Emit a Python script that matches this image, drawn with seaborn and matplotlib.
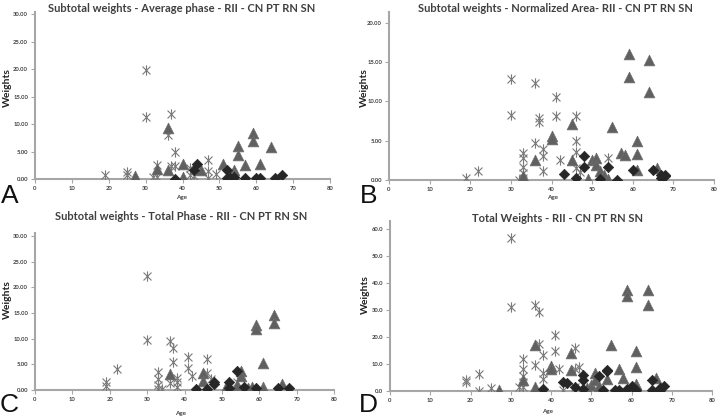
import numpy as np
import seaborn as sns
import matplotlib
matplotlib.use("Agg")
from matplotlib import pyplot as plt
from matplotlib.path import Path
from matplotlib.ticker import FormatStrFormatter, MultipleLocator

# ---- data (age, weight) ----
# A: Average phase
a_star_age = [19, 25, 25, 30, 30, 32, 33, 36, 37, 38, 37, 38, 42, 42, 43, 47, 47, 47, 49, 33]
a_star_w = [0.7, 1.3, 0.7, 19.8, 11.2, 0.4, 2.6, 8.0, 11.9, 5.0, 2.3, 2.3, 2.0, 0.7, 0.5, 3.5, 1.4, 0.2, 1.0, 0.3]
a_tri_age = [27, 33, 36, 36, 40, 40, 45, 51, 54, 54, 55, 55, 57, 59, 59, 61, 64, 66]
a_tri_w = [0.6, 1.9, 9.2, 1.6, 2.7, 0.4, 1.6, 2.8, 1.6, 1.0, 6.0, 4.3, 2.5, 8.4, 7.0, 2.7, 5.8, 0.0]
a_dia_age = [38, 43, 44, 52, 52, 53, 54, 57, 60, 61, 65, 67]
a_dia_w = [0.05, 1.6, 2.8, 1.7, 0.1, 0.15, 0.3, 0.2, 0.2, 0.2, 0.1, 0.7]

# B: Normalized area
b_star_age = [19, 22, 30, 30, 32, 33, 33, 33, 33, 33, 36, 36, 37, 37, 38, 38, 38, 41, 41, 42, 46, 46, 46, 46, 47, 54]
b_star_w = [0.3, 1.2, 12.9, 8.3, 0.0, 3.5, 2.8, 1.7, 0.9, 0.3, 12.4, 4.7, 7.9, 7.4, 3.9, 3.1, 1.2, 10.6, 8.2, 2.5, 8.2, 5.0, 3.6, 1.5, 1.0, 2.8]
b_tri_age = [33, 36, 40, 40, 45, 45, 49, 50, 51, 51, 52, 53, 54, 55, 57, 58, 59, 59, 61, 61, 61, 64, 64, 66]
b_tri_w = [0.5, 2.6, 5.6, 5.2, 7.1, 2.5, 0.1, 2.5, 2.8, 1.9, 1.1, 0.7, 0.1, 6.8, 3.5, 3.2, 16.1, 13.1, 5.0, 3.3, 1.3, 15.3, 11.2, 1.5]
b_dia_age = [43, 46, 48, 48, 52, 54, 56, 60, 65, 67, 67, 68, 68]
b_dia_w = [0.8, 0.3, 3.1, 1.7, 0.1, 1.6, 0.05, 1.3, 1.3, 0.6, 0.2, 0.5, 0.7]

# C: Total phase
c_star_age = [19, 19, 22, 30, 30, 33, 33, 33, 33, 34, 36, 36, 37, 37, 38, 38, 38, 41, 41, 42, 46, 46, 47, 54]
c_star_w = [1.6, 0.7, 4.1, 22.2, 9.7, 3.5, 2.2, 0.9, 0.2, 0.1, 9.5, 1.4, 8.2, 5.4, 2.3, 1.5, 0.6, 6.4, 4.2, 2.8, 6.0, 3.3, 2.2, 1.5]
c_tri_age = [36, 45, 45, 51, 51, 54, 55, 55, 57, 58, 59, 59, 61, 61, 61, 64, 64, 66]
c_tri_w = [3.2, 3.4, 1.7, 0.5, 0.2, 1.0, 3.7, 2.8, 0.4, 0.6, 12.6, 11.9, 5.3, 0.6, 0.2, 14.6, 13.1, 1.1]
c_dia_age = [43, 46, 48, 48, 52, 52, 54, 56, 59, 65, 68]
c_dia_w = [0.2, 0.2, 1.5, 1.2, 1.6, 0.4, 3.8, 0.5, 0.3, 0.4, 0.3]

# D: Total weights
d_star_age = [19, 19, 22, 22, 25, 30, 30, 32, 33, 33, 33, 33, 33, 36, 36, 37, 37, 38, 38, 38, 41, 41, 42, 43, 46, 46, 47, 46]
d_star_w = [4.0, 3.5, 6.3, 0.0, 1.2, 56.8, 31.0, 1.5, 11.7, 8.0, 5.5, 3.5, 1.5, 32.0, 9.8, 29.4, 17.6, 13.2, 6.5, 4.6, 20.6, 14.8, 8.0, 0.3, 16.0, 8.0, 9.0, 1.6]
d_tri_age = [27, 33, 36, 36, 40, 40, 45, 45, 49, 49, 50, 51, 51, 52, 54, 55, 57, 58, 59, 59, 61, 61, 61, 61, 64, 64, 66]
d_tri_w = [0.5, 4.2, 17.2, 1.5, 9.3, 8.0, 14.1, 7.8, 0.5, 1.0, 2.3, 6.7, 3.9, 1.8, 4.5, 17.2, 8.3, 5.0, 37.6, 35.2, 15.0, 8.9, 2.7, 1.5, 37.6, 32.0, 4.9]
d_dia_age = [38, 43, 44, 46, 48, 48, 48, 52, 53, 54, 54, 56, 57, 59, 60, 61, 65, 65, 67, 68, 67]
d_dia_w = [0.8, 3.3, 2.9, 1.6, 5.9, 3.9, 0.9, 5.4, 0.4, 7.7, 7.3, 0.5, 0.4, 0.8, 1.8, 0.4, 4.0, 0.3, 1.0, 1.8, 0.3]

titles = [
    "Subtotal weights - Average phase - RII - CN PT RN SN",
    "Subtotal weights - Normalized Area- RII - CN PT RN SN",
    "Subtotal weights - Total Phase - RII - CN PT RN SN",
    "Total Weights - RII - CN PT RN SN",
]
letters = ["A", "B", "C", "D"]

sns.set_theme(style="white")
plt.rcParams['font.family'] = ['Lato', 'DejaVu Sans']

fig = plt.figure(figsize=(7.2, 4.17), dpi=100)

# asterisk marker: an X with a vertical bar through it
star = Path(
    [(-1, -1), (1, 1), (-1, 1), (1, -1), (0, -1.3), (0, 1.3)],
    [Path.MOVETO, Path.LINETO, Path.MOVETO, Path.LINETO, Path.MOVETO, Path.LINETO],
)

# axes boxes in figure fraction: left, bottom, width, height
boxes = [
    (35 / 720, 1 - 179 / 417, 295 / 720, 167 / 417),
    (389 / 720, 1 - 180 / 417, 325 / 720, 168 / 417),
    (35 / 720, 1 - 390 / 417, 299 / 720, 157 / 417),
    (390 / 720, 1 - 391 / 417, 322 / 720, 170 / 417),
]
ylims = [30.4, 21.4, 30.6, 63.0]
ysteps = [5, 5, 5, 10]
yfmts = ["%.2f", "%.2f", "%.2f", "%.1f"]
title_pos = [(182, 9), (555, 9), (181, 216), (557, 219)]
ylabel_pos = [(7, 88), (364, 88), (7, 300), (365, 295)]
xlabel_pos = [(182, 198), (553, 198), (181, 413), (548, 412)]
letter_pos = [(1, 208), (360, 208), (0, 417), (359, 417)]

data = [
    (a_star_age, a_star_w, a_tri_age, a_tri_w, a_dia_age, a_dia_w),
    (b_star_age, b_star_w, b_tri_age, b_tri_w, b_dia_age, b_dia_w),
    (c_star_age, c_star_w, c_tri_age, c_tri_w, c_dia_age, c_dia_w),
    (d_star_age, d_star_w, d_tri_age, d_tri_w, d_dia_age, d_dia_w),
]

spine_col = "#a6a6a6"
text_col = "#404040"

for i in range(4):
    ax = fig.add_axes(boxes[i])
    sa, sw, ta, tw, da, dw = data[i]
    sns.scatterplot(x=sa, y=sw, ax=ax, marker=star, s=55, color="#8a8a8a",
                    edgecolor="#7a7a7a", linewidth=0.8, zorder=3)
    sns.scatterplot(x=ta, y=tw, ax=ax, marker="^", s=60, color="#606060",
                    edgecolor="#6e6e6e", linewidth=0.5, zorder=4)
    sns.scatterplot(x=da, y=dw, ax=ax, marker="D", s=28, color="#262626",
                    edgecolor="#262626", linewidth=0.5, zorder=5)

    ax.set_xlim(0, 80)
    ax.set_ylim(0, ylims[i])
    ax.xaxis.set_major_locator(MultipleLocator(10))
    ax.yaxis.set_major_locator(MultipleLocator(ysteps[i]))
    ax.yaxis.set_major_formatter(FormatStrFormatter(yfmts[i]))
    ax.set_xlabel("")
    ax.set_ylabel("")
    for side in ["top", "right"]:
        ax.spines[side].set_visible(False)
    for side in ["left", "bottom"]:
        ax.spines[side].set_color(spine_col)
        ax.spines[side].set_linewidth(1.5)
    ax.tick_params(axis="both", which="major", direction="out", length=3, width=0.8,
                   color=spine_col, labelsize=4.2, labelcolor=text_col, pad=2,
                   left=True, bottom=True)
    for lab in ax.get_xticklabels() + ax.get_yticklabels():
        lab.set_fontweight("bold")
    ax.set_facecolor("white")

    tx, ty = title_pos[i]
    fig.text(tx / 720, 1 - ty / 417, titles[i], ha="center", va="center",
             fontsize=8, fontweight="bold", color=text_col)
    yx, yy = ylabel_pos[i]
    fig.text(yx / 720, 1 - yy / 417, "Weights", ha="center", va="center",
             rotation=90, fontsize=7.5, fontweight="bold", color="#222222")
    xx, xy = xlabel_pos[i]
    fig.text(xx / 720, 1 - xy / 417, "Age", ha="center", va="center",
             fontsize=4.5, fontweight="bold", color=text_col)
    lx, ly = letter_pos[i]
    fig.text(lx / 720, 1 - ly / 417, letters[i], ha="left", va="bottom",
             fontsize=19, color="#111111", family=["Liberation Sans", "DejaVu Sans"])

fig.savefig("out.png", dpi=100, facecolor="white")
